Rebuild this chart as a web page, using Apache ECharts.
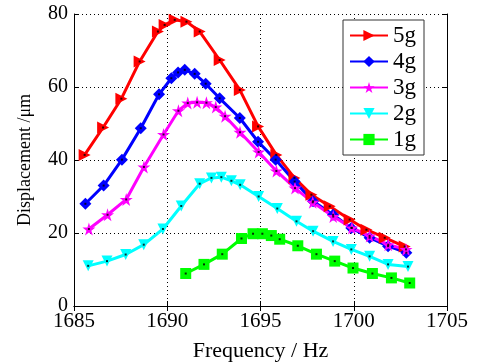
<!DOCTYPE html>
<html>
<head>
<meta charset="utf-8">
<script src="https://cdn.jsdelivr.net/npm/echarts@6/dist/echarts.min.js"></script>
<style>
  html, body { margin: 0; padding: 0; background: #fff; }
  #chart { width: 486px; height: 363px; }
</style>
</head>
<body>
<div id="chart"></div>
<script>
const freq5 = [1685.57, 1686.56, 1687.54, 1688.52, 1689.5, 1689.86, 1690.4, 1691.03, 1691.74, 1692.81, 1693.89, 1694.87, 1695.85, 1696.82, 1697.73, 1698.71, 1699.78, 1700.68, 1701.66, 1702.73];
const disp5 = [41.4, 48.9, 56.8, 67.0, 75.2, 77.0, 78.4, 77.9, 75.2, 67.4, 59.2, 49.2, 41.4, 35.1, 30.5, 27.3, 23.7, 20.9, 18.7, 16.3];

const freq4 = [1685.61, 1686.59, 1687.57, 1688.58, 1689.56, 1690.22, 1690.58, 1690.94, 1691.47, 1692.06, 1692.81, 1693.89, 1694.87, 1695.81, 1696.83, 1697.82, 1698.89, 1699.87, 1700.85, 1701.84, 1702.82];
const disp4 = [28.0, 33.0, 40.1, 48.7, 58.0, 62.4, 64.0, 64.7, 63.6, 60.9, 56.9, 51.5, 45.0, 40.1, 34.1, 28.7, 25.0, 21.4, 18.7, 16.4, 14.6];

const freq3 = [1685.8, 1686.8, 1687.8, 1688.75, 1689.8, 1690.6, 1691.1, 1691.6, 1692.1, 1692.6, 1693.1, 1693.9, 1694.9, 1695.85, 1696.85, 1697.8, 1698.9, 1699.9, 1700.85, 1701.85, 1702.8];
const disp3 = [21.1, 25.0, 29.2, 38.1, 47.0, 53.5, 55.6, 55.8, 55.7, 54.5, 52.0, 47.6, 42.2, 37.0, 32.3, 28.4, 24.5, 21.4, 19.2, 16.8, 15.5];

const freq2 = [1685.76, 1686.77, 1687.77, 1688.74, 1689.77, 1690.75, 1691.74, 1692.37, 1692.9, 1693.44, 1693.91, 1694.9, 1695.9, 1696.93, 1697.82, 1698.89, 1699.87, 1700.85, 1701.84, 1702.91];
const disp2 = [11.0, 12.3, 14.1, 16.8, 21.1, 27.4, 33.5, 35.1, 35.3, 34.3, 33.2, 30.0, 26.7, 23.2, 20.5, 17.7, 15.5, 13.6, 11.4, 10.8];

const freq1 = [1690.99, 1691.97, 1692.95, 1693.98, 1694.6, 1695.1, 1695.58, 1696.03, 1697.0, 1698.0, 1698.98, 1699.96, 1701.0, 1702.02, 1703.0];
const disp1 = [8.9, 11.4, 14.2, 18.5, 19.8, 19.8, 19.3, 18.3, 16.5, 14.2, 12.3, 10.4, 8.9, 7.7, 6.3];

const xTicks = [1685, 1690, 1695, 1700, 1705];
const yTicks = [0, 20, 40, 60, 80];

const FONT = 'Liberation Serif';
const STAR = 'path://M50,0 L61,35 L98,35 L68,57 L79,91 L50,70 L21,91 L32,57 L2,35 L39,35 Z';

const groups = [
  { name: '5g', color: '#ff0000', x: freq5, y: disp5, symbol: 'triangle', rotate: -90, size: 12 },
  { name: '4g', color: '#0000ff', x: freq4, y: disp4, symbol: 'diamond', rotate: 0, size: 12 },
  { name: '3g', color: '#ff00ff', x: freq3, y: disp3, symbol: STAR, rotate: 0, size: 13 },
  { name: '2g', color: '#00ffff', x: freq2, y: disp2, symbol: 'triangle', rotate: 180, size: 11 },
  { name: '1g', color: '#00ff00', x: freq1, y: disp1, symbol: 'rect', rotate: 0, size: 11 }
];

function pairs(xs, ys) {
  return xs.map((v, i) => [v, ys[i]]);
}

const series = [];
groups.forEach(g => {
  series.push({
    name: g.name,
    type: 'line',
    data: pairs(g.x, g.y),
    symbol: g.symbol,
    symbolRotate: g.rotate,
    symbolSize: g.size,
    showAllSymbol: true,
    lineStyle: { color: g.color, width: 3 },
    itemStyle: { color: g.color },
    emphasis: { disabled: true },
    animation: false,
    z: 3
  });
});
// little black dots in the middle of every marker
groups.forEach(g => {
  series.push({
    type: 'scatter',
    data: pairs(g.x, g.y),
    symbol: 'rect',
    symbolSize: 2,
    itemStyle: { color: '#000' },
    silent: true,
    animation: false,
    z: 4
  });
});

const tickStyle = { inside: true, length: 5, lineStyle: { color: '#000' } };
const dotted = { show: true, lineStyle: { color: '#000', type: [1, 3], width: 1 } };

const chart = echarts.init(document.getElementById('chart'));
chart.setOption({
  animation: false,
  backgroundColor: '#fff',
  grid: { left: 74, right: 39, top: 14, bottom: 57, outerBoundsMode: 'none', containLabel: false },
  legend: {
    orient: 'vertical',
    left: 343,
    top: 20,
    data: groups.map(g => g.name),
    itemWidth: 38,
    itemHeight: 14,
    itemGap: 3,
    padding: [4, 8, 4, 6],
    borderColor: '#333',
    borderWidth: 1,
    backgroundColor: '#fff',
    borderRadius: 0,
    selectedMode: false,
    textStyle: { fontFamily: FONT, fontSize: 23, color: '#000' }
  },
  xAxis: [{
    type: 'value',
    min: xTicks[0],
    max: xTicks[xTicks.length - 1],
    interval: 5,
    name: 'Frequency / Hz',
    nameLocation: 'middle',
    nameGap: 34,
    nameTextStyle: { fontFamily: FONT, fontSize: 22, color: '#000' },
    axisLine: { lineStyle: { color: '#000' } },
    axisTick: tickStyle,
    axisLabel: { fontFamily: FONT, fontSize: 21, color: '#000', margin: 5, formatter: v => String(v) },
    splitLine: dotted
  }, {
    type: 'value',
    position: 'top',
    min: xTicks[0],
    max: xTicks[xTicks.length - 1],
    interval: 5,
    axisLine: { show: true, lineStyle: { color: '#000' } },
    axisTick: tickStyle,
    axisLabel: { show: false },
    splitLine: { show: false }
  }],
  yAxis: [{
    type: 'value',
    min: yTicks[0],
    max: yTicks[yTicks.length - 1],
    interval: 20,
    name: 'Displacement /\u03bcm',
    nameLocation: 'middle',
    nameGap: 40,
    nameTextStyle: { fontFamily: FONT, fontSize: 18, color: '#000' },
    axisLine: { show: true, lineStyle: { color: '#000' } },
    axisTick: tickStyle,
    axisLabel: { fontFamily: FONT, fontSize: 20, color: '#000', margin: 6 },
    splitLine: dotted
  }, {
    type: 'value',
    position: 'right',
    min: yTicks[0],
    max: yTicks[yTicks.length - 1],
    interval: 20,
    axisLine: { show: true, lineStyle: { color: '#000' } },
    axisTick: tickStyle,
    axisLabel: { show: false },
    splitLine: { show: false }
  }],
  series: series
});
</script>
</body>
</html>
